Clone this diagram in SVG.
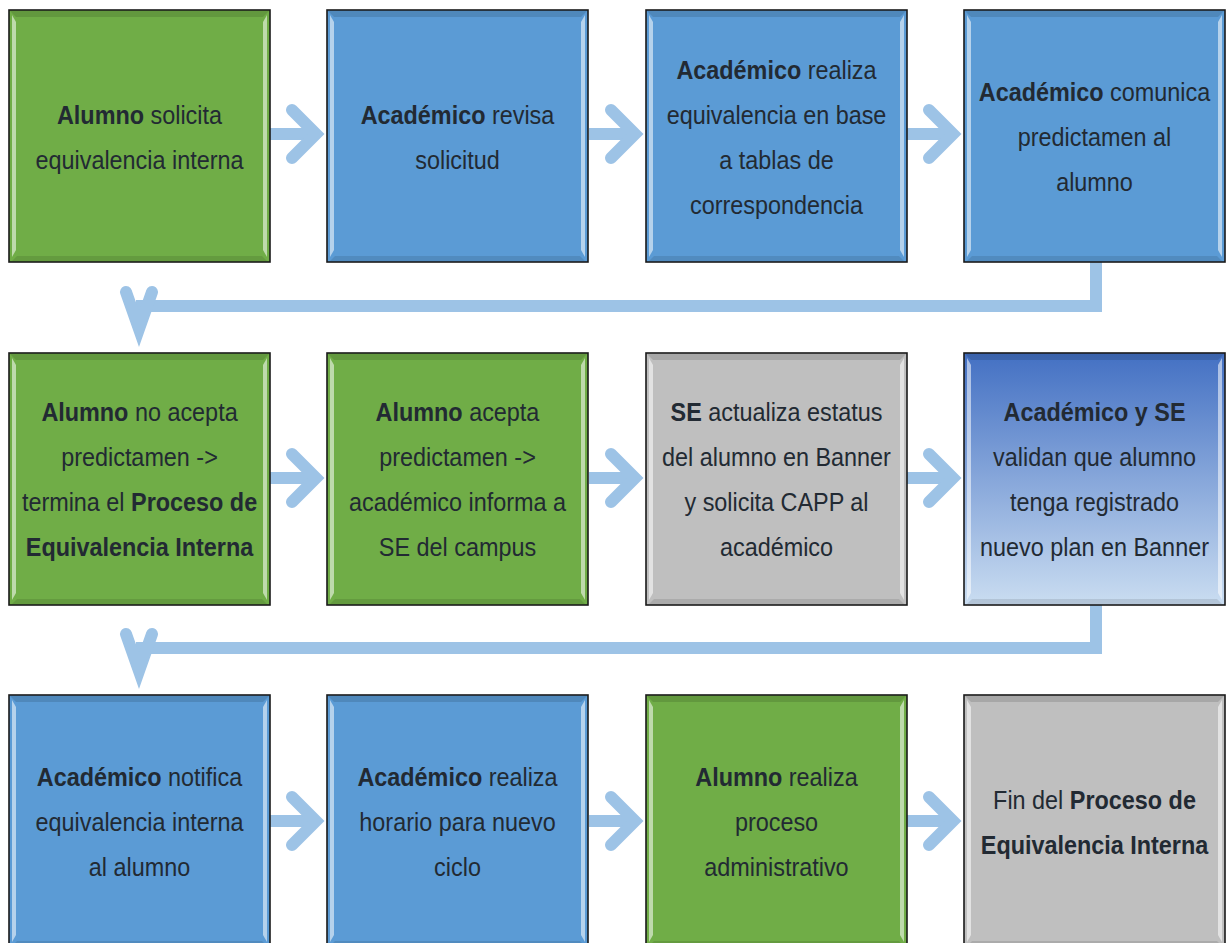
<svg xmlns="http://www.w3.org/2000/svg" xmlns:xlink="http://www.w3.org/1999/xlink" width="1226" height="943" viewBox="0 0 1226 943">
<style>
.box{stroke:#1a1a1a;stroke-width:1.6}
.green{fill:#70AD47}
.blue{fill:#5B9BD5}
.grey{fill:#BFBFBF}
.grad{fill:url(#gBlue)}
.t{font-family:"Liberation Sans",Arial,sans-serif;font-size:26px;fill:#222a33;text-anchor:middle}
.b{font-weight:bold}
.arr{fill:none;stroke:#9DC3E6;stroke-width:12}
.chev{fill:none;stroke:#9DC3E6;stroke-width:12;stroke-linecap:round;stroke-linejoin:miter;stroke-miterlimit:6}
</style>
<defs>
<linearGradient id="gBlue" x1="0" y1="0" x2="0" y2="1">
<stop offset="0" stop-color="#4370C3"/>
<stop offset="1" stop-color="#CADDF1"/>
</linearGradient>
<g id="bevel">
<polygon points="1,1 260,1 254,7 7,7" fill="#000" fill-opacity="0.12"/>
<polygon points="3,5 7,12 7,240 3,247" fill="#fff" fill-opacity="0.55"/>
<polygon points="258,5 254,12 254,240 258,247" fill="#fff" fill-opacity="0.55"/>
<polygon points="3,251 258,251 253,246 8,246" fill="#000" fill-opacity="0.1"/>
</g>
</defs>
<rect width="1226" height="943" fill="#fff"/>

<g id="connectors">
<line class="arr" x1="270" y1="134" x2="316" y2="134"/>
<polyline class="chev" points="292,110 316,134 292,158"/>
<line class="arr" x1="589" y1="134" x2="635" y2="134"/>
<polyline class="chev" points="611,110 635,134 611,158"/>
<line class="arr" x1="907" y1="134" x2="953" y2="134"/>
<polyline class="chev" points="929,110 953,134 929,158"/>

<polyline class="arr" points="1096,262 1096,306 136,306"/>
<polyline class="chev" points="126,292 139,329 152,292"/>

<line class="arr" x1="270" y1="478" x2="316" y2="478"/>
<polyline class="chev" points="292,454 316,478 292,502"/>
<line class="arr" x1="589" y1="478" x2="635" y2="478"/>
<polyline class="chev" points="611,454 635,478 611,502"/>
<line class="arr" x1="907" y1="478" x2="953" y2="478"/>
<polyline class="chev" points="929,454 953,478 929,502"/>

<polyline class="arr" points="1096,605 1096,648 136,648"/>
<polyline class="chev" points="126,634 139,671 152,634"/>

<line class="arr" x1="270" y1="821" x2="316" y2="821"/>
<polyline class="chev" points="292,797 316,821 292,845"/>
<line class="arr" x1="589" y1="821" x2="635" y2="821"/>
<polyline class="chev" points="611,797 635,821 611,845"/>
<line class="arr" x1="907" y1="821" x2="953" y2="821"/>
<polyline class="chev" points="929,797 953,821 929,845"/>
</g>

<g id="n1">
<rect class="box green" x="9" y="10" width="261" height="252"/>
<use xlink:href="#bevel" x="9" y="10"/>
<text class="t" transform="translate(139.5,0) scale(0.9,1)"><tspan x="0" y="124"><tspan class="b">Alumno</tspan> solicita</tspan><tspan x="0" y="169">equivalencia interna</tspan></text>
</g>
<g id="n2">
<rect class="box blue" x="327" y="10" width="261" height="252"/>
<use xlink:href="#bevel" x="327" y="10"/>
<text class="t" transform="translate(457.5,0) scale(0.9,1)"><tspan x="0" y="124"><tspan class="b">Académico</tspan> revisa</tspan><tspan x="0" y="169">solicitud</tspan></text>
</g>
<g id="n3">
<rect class="box blue" x="646" y="10" width="261" height="252"/>
<use xlink:href="#bevel" x="646" y="10"/>
<text class="t" transform="translate(776.5,0) scale(0.9,1)"><tspan x="0" y="79"><tspan class="b">Académico</tspan> realiza</tspan><tspan x="0" y="124">equivalencia en base</tspan><tspan x="0" y="169">a tablas de</tspan><tspan x="0" y="214">correspondencia</tspan></text>
</g>
<g id="n4">
<rect class="box blue" x="964" y="10" width="261" height="252"/>
<use xlink:href="#bevel" x="964" y="10"/>
<text class="t" transform="translate(1094.5,0) scale(0.9,1)"><tspan x="0" y="101"><tspan class="b">Académico</tspan> comunica</tspan><tspan x="0" y="146">predictamen al</tspan><tspan x="0" y="191">alumno</tspan></text>
</g>

<g id="n5">
<rect class="box green" x="9" y="353" width="261" height="252"/>
<use xlink:href="#bevel" x="9" y="353"/>
<text class="t" transform="translate(139.5,0) scale(0.9,1)"><tspan x="0" y="421"><tspan class="b">Alumno</tspan> no acepta</tspan><tspan x="0" y="466">predictamen -&gt;</tspan><tspan x="0" y="511">termina el <tspan class="b">Proceso de</tspan></tspan><tspan x="0" y="556" class="b">Equivalencia Interna</tspan></text>
</g>
<g id="n6">
<rect class="box green" x="327" y="353" width="261" height="252"/>
<use xlink:href="#bevel" x="327" y="353"/>
<text class="t" transform="translate(457.5,0) scale(0.9,1)"><tspan x="0" y="421"><tspan class="b">Alumno</tspan> acepta</tspan><tspan x="0" y="466">predictamen -&gt;</tspan><tspan x="0" y="511">académico informa a</tspan><tspan x="0" y="556">SE del campus</tspan></text>
</g>
<g id="n7">
<rect class="box grey" x="646" y="353" width="261" height="252"/>
<use xlink:href="#bevel" x="646" y="353"/>
<text class="t" transform="translate(776.5,0) scale(0.9,1)"><tspan x="0" y="421"><tspan class="b">SE</tspan> actualiza estatus</tspan><tspan x="0" y="466">del alumno en Banner</tspan><tspan x="0" y="511">y solicita CAPP al</tspan><tspan x="0" y="556">académico</tspan></text>
</g>
<g id="n8">
<rect class="box grad" x="964" y="353" width="261" height="252"/>
<use xlink:href="#bevel" x="964" y="353"/>
<text class="t" transform="translate(1094.5,0) scale(0.9,1)"><tspan x="0" y="421" class="b">Académico y SE</tspan><tspan x="0" y="466">validan que alumno</tspan><tspan x="0" y="511">tenga registrado</tspan><tspan x="0" y="556">nuevo plan en Banner</tspan></text>
</g>

<g id="n9">
<rect class="box blue" x="9" y="695" width="261" height="252"/>
<use xlink:href="#bevel" x="9" y="695"/>
<text class="t" transform="translate(139.5,0) scale(0.9,1)"><tspan x="0" y="786"><tspan class="b">Académico</tspan> notifica</tspan><tspan x="0" y="831">equivalencia interna</tspan><tspan x="0" y="876">al alumno</tspan></text>
</g>
<g id="n10">
<rect class="box blue" x="327" y="695" width="261" height="252"/>
<use xlink:href="#bevel" x="327" y="695"/>
<text class="t" transform="translate(457.5,0) scale(0.9,1)"><tspan x="0" y="786"><tspan class="b">Académico</tspan> realiza</tspan><tspan x="0" y="831">horario para nuevo</tspan><tspan x="0" y="876">ciclo</tspan></text>
</g>
<g id="n11">
<rect class="box green" x="646" y="695" width="261" height="252"/>
<use xlink:href="#bevel" x="646" y="695"/>
<text class="t" transform="translate(776.5,0) scale(0.9,1)"><tspan x="0" y="786"><tspan class="b">Alumno</tspan> realiza</tspan><tspan x="0" y="831">proceso</tspan><tspan x="0" y="876">administrativo</tspan></text>
</g>
<g id="n12">
<rect class="box grey" x="964" y="695" width="261" height="252"/>
<use xlink:href="#bevel" x="964" y="695"/>
<text class="t" transform="translate(1094.5,0) scale(0.9,1)"><tspan x="0" y="809">Fin del <tspan class="b">Proceso de</tspan></tspan><tspan x="0" y="854" class="b">Equivalencia Interna</tspan></text>
</g>
</svg>
